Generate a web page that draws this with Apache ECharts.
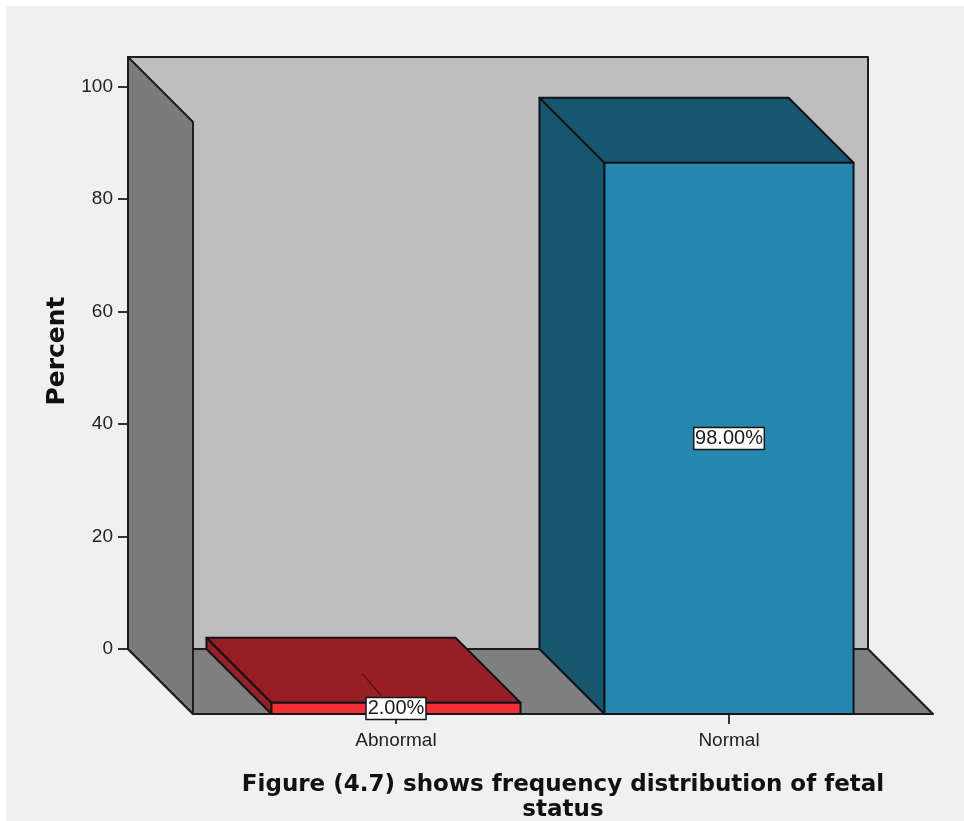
<!DOCTYPE html>
<html>
<head>
<meta charset="utf-8">
<style>
html,body{margin:0;padding:0;background:#fff;}
#bg{position:absolute;left:6px;top:6px;width:958px;height:815px;background:#f0f0f0;}
#main{position:absolute;left:0;top:0;width:964px;height:821px;}
</style>
<script src="https://cdn.jsdelivr.net/npm/echarts@6/dist/echarts.min.js"></script>
</head>
<body>
<div id="bg"></div>
<div id="main"></div>
<script>
const categories = ['Abnormal', 'Normal'];
const percentValues = [2, 98];
const valueLabels = ['2.00%', '98.00%'];
const yTickMax = 105.25;
const yTickStep = 20;
const titleText = 'Figure (4.7) shows frequency distribution of fetal\nstatus';
const yAxisName = 'Percent';

const DEPTH = 65;
const INK = '#101418';
const faceColors = ['#ee2f38', '#2387ae'];
const topColors = ['#981f24', '#16566f'];

function renderWalls(params, api) {
  const c = params.coordSys;
  const x0 = c.x, y0 = c.y, x1 = c.x + c.width, y1 = c.y + c.height;
  const line = { stroke: '#1c1c1c', lineWidth: 2, lineJoin: 'round' };
  const poly = (points, fill) => ({ type: 'polygon', shape: { points }, style: Object.assign({ fill }, line) });
  return {
    type: 'group',
    children: [
      poly([[x0, y0], [x1, y0], [x1, y1], [x0, y1]], '#bebebe'),
      poly([[x0, y1], [x1, y1], [x1 + DEPTH, y1 + DEPTH], [x0 + DEPTH, y1 + DEPTH]], '#7f7f7f'),
      poly([[x0, y0], [x0 + DEPTH, y0 + DEPTH], [x0 + DEPTH, y1 + DEPTH], [x0, y1]], '#7a7a7a')
    ]
  };
}

function renderBar(params, api) {
  const i = api.value(0);
  const v = api.value(1);
  const base = api.coord([i, 0]);
  const top = api.coord([i, v]);
  const w = api.size([1, 0])[0] * 0.748;
  const l = base[0] - w / 2, r = base[0] + w / 2;
  const t = top[1], b = base[1];
  const line = { stroke: INK, lineWidth: 2, lineJoin: 'round' };
  const poly = (points, fill) => ({ type: 'polygon', shape: { points }, style: Object.assign({ fill }, line) });
  const midY = (t + b) / 2;
  const label = valueLabels[i];
  const boxW = label.length * 10.6 + 7;
  const children = [
    poly([[l, t], [l - DEPTH, t - DEPTH], [l - DEPTH, b - DEPTH], [l, b]], topColors[i]),
    poly([[l, t], [l - DEPTH, t - DEPTH], [r - DEPTH, t - DEPTH], [r, t]], topColors[i]),
    poly([[l, t], [r, t], [r, b], [l, b]], faceColors[i])
  ];
  if (b - t < 30) {
    children.push({
      type: 'line',
      shape: { x1: base[0] - 34, y1: midY - 35, x2: base[0] - 15, y2: midY - 13 },
      style: { stroke: '#4a1013', lineWidth: 1.2 }
    });
  }
  children.push(
    { type: 'rect', shape: { x: base[0] - boxW / 2, y: midY - 11, width: boxW, height: 22 },
      style: { fill: '#ffffff', stroke: INK, lineWidth: 1.5 } },
    { type: 'text', style: { text: label, x: base[0], y: midY + 0.5, align: 'center', verticalAlign: 'middle',
      fill: '#1a1a1a', font: '20px "Liberation Sans", Arial, sans-serif' } }
  );
  return { type: 'group', children };
}

const chart = echarts.init(document.getElementById('main'), null, { renderer: 'canvas' });
chart.setOption({
  animation: false,
  backgroundColor: 'transparent',
  title: {
    text: titleText,
    left: 558,
    top: 768,
    textAlign: 'center',
    textStyle: { fontFamily: '"DejaVu Sans", sans-serif', fontWeight: 'bold', fontSize: 23, lineHeight: 25, color: '#111' }
  },
  grid: [
    { left: 128, top: 57, width: 740, height: 592 },
    { left: 229.5, top: 122, width: 666, height: 592 }
  ],
  xAxis: [
    { gridIndex: 0, type: 'category', data: categories, show: false },
    {
      gridIndex: 1, type: 'category', data: categories, boundaryGap: true,
      axisLine: { show: false },
      axisTick: { show: true, alignWithLabel: true, length: 10, lineStyle: { color: '#333', width: 2 } },
      axisLabel: { fontFamily: '"Liberation Sans", Arial, sans-serif', fontSize: 19, color: '#222', margin: 17 }
    }
  ],
  yAxis: [
    {
      gridIndex: 0, type: 'value', min: 0, max: yTickMax, interval: yTickStep,
      name: yAxisName, nameLocation: 'middle', nameGap: 56,
      nameTextStyle: { fontFamily: '"DejaVu Sans", sans-serif', fontWeight: 'bold', fontSize: 25, color: '#111', padding: [0, 0, 0, 4] },
      axisLine: { show: false },
      axisTick: { show: true, length: 10, lineStyle: { color: '#333', width: 2 } },
      axisLabel: { fontFamily: '"Liberation Sans", Arial, sans-serif', fontSize: 19, color: '#222', margin: 15, padding: [3, 0, 0, 0], showMaxLabel: false },
      splitLine: { show: false }
    },
    { gridIndex: 1, type: 'value', min: 0, max: yTickMax, show: false, splitLine: { show: false } }
  ],
  series: [
    { type: 'custom', xAxisIndex: 0, yAxisIndex: 0, z: 1, silent: true, clip: false, renderItem: renderWalls, data: [[0, 0]] },
    {
      type: 'custom', xAxisIndex: 1, yAxisIndex: 1, z: 3, clip: false, renderItem: renderBar,
      encode: { x: 0, y: 1 },
      data: categories.map((c, i) => [i, percentValues[i]])
    }
  ]
});
</script>
</body>
</html>
